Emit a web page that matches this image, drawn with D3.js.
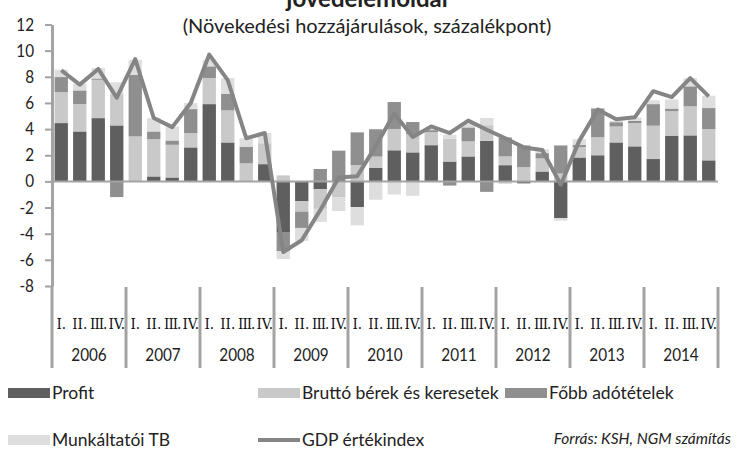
<!DOCTYPE html>
<html>
<head>
<meta charset="utf-8">
<script src="https://cdn.jsdelivr.net/npm/d3@7"></script>
<style>
body { margin: 0; background: #fff; }
svg { display: block; font-family: Lato, "Liberation Sans", sans-serif; }
</style>
</head>
<body>
<svg id="chart" width="738" height="458"></svg>
<script>
var years = ["2006", "2007", "2008", "2009", "2010", "2011", "2012", "2013", "2014"];
var quarters = ["I.", "II.", "III.", "IV."];
var yTicks = [-8, -6, -4, -2, 0, 2, 4, 6, 8, 10, 12];

// contributions, one value per quarter, 2006 I. .. 2014 IV.
var profit = [4.46, 3.82, 4.84, 4.28,  0, 0.38, 0.3, 2.6,  5.91, 2.98, 0, 1.32,
              -3.87, -1.5, -0.6, 0.1,  -1.96, 1.05, 2.38, 2.22,  2.77, 1.52, 1.91, 3.1,
              1.24, -0.15, 0.76, -2.8,  1.83, 2.0, 2.98, 2.68,  1.71, 3.5, 3.52, 1.61];
var brutto = [2.37, 2.09, 2.93, 2.4,  3.44, 2.86, 2.5, 1.1,  2.0, 2.45, 1.38, 1.6,
              0.46, -0.81, -1.5, -1.22,  1.25, 0.85, 1.63, 1.4,  1.0, 1.75, 1.15, 1.2,
              0.67, 1.1, 1.0, 0.6,  0.8, 1.38, 1.22, 1.78,  2.55, 1.87, 2.22, 2.39];
var fobb = [1.15, 1.05, 0.1, -1.2,  4.71, 0.58, 0.33, 1.83,  0.89, 1.27, 1.28, 0,
            -1.48, -1.25, 0.95, 2.25,  2.5, 2.09, 2.06, 0.92,  0.15, -0.32, 1.07, -0.8,
            1.45, 1.65, 0.4, 2.15,  0.15, 2.2, 0.33, 0.18,  1.65, 0.2, 1.53, 1.61];
var tb = [0.56, 0.5, 0.8, 0.9,  1.15, 1.02, 1.07, 0.46,  0.5, 1.2, 0.64, 0.78,
          -0.59, -1.0, -1.0, -1.05,  -1.4, -1.4, -1.0, -1.1,  0.1, 0.3, 0.3, 0.55,
          -0.2, 0, 0.3, -0.2,  0.45, 0, 0.1, 0.25,  0.3, 0.7, 0.63, 0.94];
var gdp = [8.5, 7.4, 8.6, 6.4,  9.35, 4.85, 4.15, 6.0,  9.7, 7.75, 3.3, 3.7,
           -5.4, -4.5, -2.2, 0.3,  0.4, 2.7, 5.2, 3.4,  4.2, 3.7, 4.65, 3.95,
           3.3, 2.6, 2.4, -0.25,  3.1, 5.5, 4.75, 4.9,  6.9, 6.45, 7.9, 6.5];

var seriesNames = ["Profit", "Bruttó bérek és keresetek", "Főbb adótételek", "Munkáltatói TB"];
var seriesColors = ["#5f5f5f", "#c9c9c9", "#8f8f8f", "#dedede"];
var lineName = "GDP értékindex";
var lineColor = "#858585";

var svg = d3.select('svg#chart');
var axisColor = "#a3a3a3";

function txt(g, x, y, s, size, anchor, sx, extra){
    var t = g.append('text')
        .attr('transform', 'translate(' + x + ',' + y + ') scale(' + sx + ',1)')
        .attr('font-size', size)
        .attr('text-anchor', anchor || 'start')
        .attr('fill', '#222')
        .text(s);
    if (extra) extra(t);
    return t;
}

var rows = [];
for (var i = 0; i < profit.length; i++) {
    rows.push({id: i, year: years[Math.floor(i / 4)], q: quarters[i % 4],
               s0: profit[i], s1: brutto[i], s2: fobb[i], s3: tb[i]});
}

var x = d3.scaleBand().domain(rows.map(function(d){ return d.id; }))
    .range([52, 718]).paddingInner(0.28).paddingOuter(0.14);
var y = d3.scaleLinear().domain([-8, 12]).range([286, 24.5]);

var stack = d3.stack().keys(["s0", "s1", "s2", "s3"]).offset(d3.stackOffsetDiverging);
var stacked = stack(rows);

// bars
svg.append('g').selectAll('g').data(stacked).enter().append('g')
    .attr('fill', function(d, i){ return seriesColors[i]; })
    .selectAll('rect').data(function(d){ return d; }).enter().append('rect')
    .attr('x', function(d){ return x(d.data.id); })
    .attr('width', x.bandwidth())
    .attr('y', function(d){ return y(Math.max(d[0], d[1])); })
    .attr('height', function(d){ return Math.abs(y(d[0]) - y(d[1])); });

// zero line
svg.append('line')
    .attr('x1', 52).attr('x2', 718).attr('y1', y(0)).attr('y2', y(0))
    .attr('stroke', axisColor).attr('stroke-width', 2);

// gdp line
var line = d3.line()
    .x(function(d, i){ return x(i) + x.bandwidth() / 2; })
    .y(function(d){ return y(d); });
svg.append('path').datum(gdp)
    .attr('d', line)
    .attr('fill', 'none')
    .attr('stroke', lineColor)
    .attr('stroke-width', 4)
    .attr('stroke-linejoin', 'round');

// y axis
var yAxis = d3.axisLeft(y).tickValues(yTicks).tickSize(7).tickSizeOuter(0);
var ya = svg.append('g').attr('transform', 'translate(52,0)').call(yAxis);
ya.select('.domain').attr('stroke', axisColor).attr('stroke-width', 3);
ya.selectAll('.tick line').attr('stroke', axisColor).attr('stroke-width', 2);
ya.selectAll('.tick text').remove();
yTicks.forEach(function(v){
    txt(svg, 34, y(v) + 6, String(v), 18, 'end', 0.85);
});

// category axis: year separators and labels
var step = x.step();
var x0 = x.range()[0];
var sep = svg.append('g');
for (var k = 0; k <= years.length; k++) {
    var xs = x0 + k * 4 * step;
    sep.append('line')
        .attr('x1', xs).attr('x2', xs)
        .attr('y1', k === 0 ? y(-8) : y(-8) + 1).attr('y2', 368)
        .attr('stroke', axisColor).attr('stroke-width', 3);
}
svg.append('g').selectAll('text').data(rows).enter().append('text')
    .attr('x', function(d){ return x(d.id) + x.bandwidth() / 2; })
    .attr('y', 329)
    .attr('font-family', '"DejaVu Serif Condensed", "Liberation Serif", serif')
    .attr('font-size', 15)
    .attr('letter-spacing', function(d){ return d.q === 'III.' ? -1 : 0; })
    .attr('text-anchor', 'middle')
    .attr('fill', '#111')
    .text(function(d){ return d.q; });
years.forEach(function(yr, k){
    txt(svg, x0 + (k * 4 + 2) * step, 361, yr, 18, 'middle', 0.85);
});

// titles
txt(svg, 367, 7, "jövedelemoldal", 24, 'middle', 1, function(t){ t.attr('font-weight', 'bold'); });
txt(svg, 367, 33, "(Növekedési hozzájárulások, százalékpont)", 20, 'middle', 1);

// legend
var legend = [
    {name: seriesNames[0], color: seriesColors[0], x: 8, y: 393},
    {name: seriesNames[1], color: seriesColors[1], x: 258, y: 393},
    {name: seriesNames[2], color: seriesColors[2], x: 505, y: 393},
    {name: seriesNames[3], color: seriesColors[3], x: 8, y: 440},
    {name: lineName, color: lineColor, x: 258, y: 440, line: true}
];
legend.forEach(function(l){
    if (l.line) {
        svg.append('line').attr('x1', l.x).attr('x2', l.x + 42)
            .attr('y1', l.y).attr('y2', l.y)
            .attr('stroke', l.color).attr('stroke-width', 4);
    } else {
        svg.append('rect').attr('x', l.x).attr('y', l.y - 5)
            .attr('width', 42).attr('height', 10).attr('fill', l.color);
    }
    txt(svg, l.x + 44, l.y + 6, l.name, 17.5, 'start', 1);
});
txt(svg, 731, 444, "Forrás: KSH, NGM számítás", 15.5, 'end', 1, function(t){ t.attr('font-style', 'italic'); });
</script>
</body>
</html>
